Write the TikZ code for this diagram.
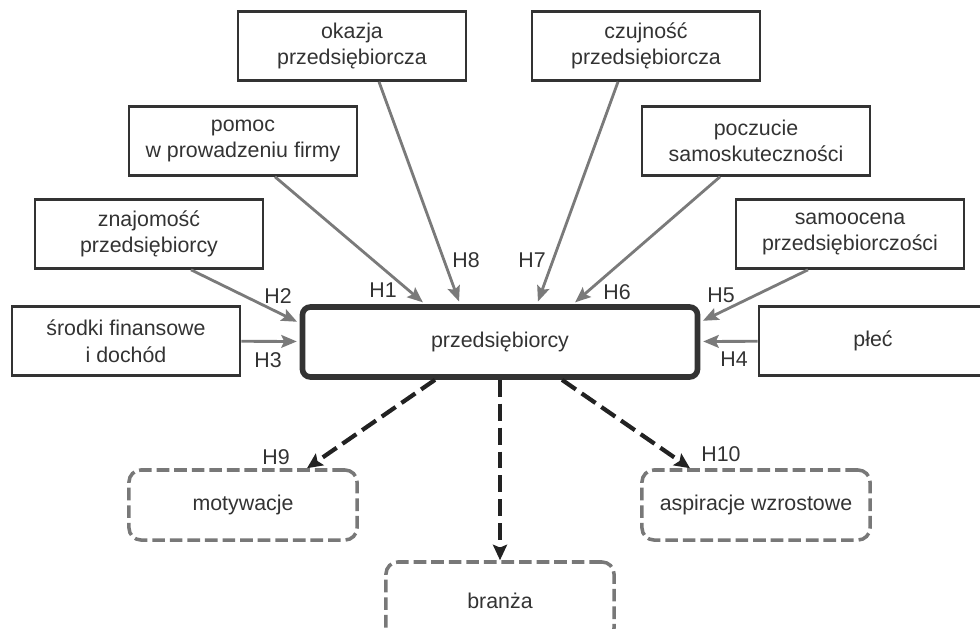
\documentclass[tikz,border=0pt]{standalone}
\usepackage{fontspec}
\setmainfont{Liberation Sans}
\usetikzlibrary{positioning,calc,arrows.meta}
\definecolor{boxgray}{HTML}{333333}
\definecolor{arrgray}{HTML}{7A7A7A}
\definecolor{dashgray}{HTML}{787878}
\definecolor{darkarr}{HTML}{222222}

\begin{document}
\begin{tikzpicture}[x=0.025cm,y=-0.025cm,
		factnode/.style={rectangle,draw=boxgray,line width=2pt,fill=white,text=boxgray,align=center,inner sep=0pt,minimum width=5.7cm,minimum height=1.72cm,font=\fontsize{15.2}{19}\selectfont},
		mainnode/.style={factnode,line width=4pt,rounded corners=0.2cm,minimum width=9.875cm,minimum height=1.75cm},
		outnode/.style={factnode,draw=dashgray,line width=2.5pt,dash pattern=on 9pt off 3.5pt,rounded corners=0.3cm,minimum height=1.75cm},
		hyparrow/.style={draw=arrgray,line width=2pt,-{Stealth[length=11pt,width=9pt,inset=2pt]},shorten >=2pt},
		outarrow/.style={draw=darkarr,line width=3pt,dash pattern=on 12pt off 5pt,-{Stealth[length=11pt,width=10pt,inset=2pt]}},
		hlabel/.style={text=boxgray,inner sep=0pt,font=\fontsize{15.2}{18}\selectfont}]
		\useasboundingbox (0,0) rectangle (980,629);
		\clip (0,0) rectangle (980,629);

		% center and factors
		\node[mainnode]		(main)		at (500,342)	{przedsiębiorcy};
		\node[factnode]		(okazja)	at (352,46)		{okazja\\przedsiębiorcza};
		\node[factnode]		(czujnosc)	at (646,46)		{czujność\\przedsiębiorcza};
		\node[factnode]		(pomoc)		at (243,141)	{pomoc\\w prowadzeniu firmy};
		\node[factnode]		(poczucie)	at (756,141)	{poczucie\\samoskuteczności};
		\node[factnode]		(znajomosc)	at (149,234)	{znajomość\\przedsiębiorcy};
		\node[factnode]		(samoocena)	at (850,234)	{samoocena\\przedsiębiorczości};
		\node[factnode]		(srodki)	at (126,341)	{środki finansowe\\i dochód};
		\node[factnode]		(plec)		at (873,341)	{płeć};

		% outcomes
		\node[outnode]		(motyw)		at (243,505)	{motywacje};
		\node[outnode]		(aspir)		at (756,505)	{aspiracje wzrostowe};
		\node[outnode,minimum height=1.95cm]	(branza)	at (500,601)	{branża};

		\draw[hyparrow] ($(pomoc.south)+(32,0)$) -- ($(main.north)+(-75,0)$);
		\draw[hyparrow] ($(okazja.south)+(27,0)$) -- ($(main.north)+(-40,0)$);
		\draw[hyparrow] ($(czujnosc.south)+(-28,0)$) -- ($(main.north)+(37,0)$);
		\draw[hyparrow] ($(poczucie.south)+(-36,0)$) -- ($(main.north)+(73,0)$);
		\draw[hyparrow] ($(znajomosc.south)+(42,0)$) -- ($(main.west)+(0,-19)$);
		\draw[hyparrow] (srodki) -- (main);
		\draw[hyparrow] ($(samoocena.south)+(-42,0)$) -- ($(main.east)+(0,-20)$);
		\draw[hyparrow] (plec) -- (main);

		\draw[outarrow] ($(main.south)+(-65,0)$) -- ($(motyw.north)+(64,0)$);
		\draw[outarrow] ($(main.south)+(62,0)$) -- ($(aspir.north)+(-66,0)$);
		\draw[outarrow] (main) -- (branza);

		\node[hlabel] (h1)	at (383,290)	{H1};
		\node[hlabel] (h2)	at (278,296)	{H2};
		\node[hlabel] (h3)	at (268,360)	{H3};
		\node[hlabel] (h4)	at (734,359)	{H4};
		\node[hlabel] (h5)	at (721,295)	{H5};
		\node[hlabel] (h6)	at (617,292)	{H6};
		\node[hlabel] (h7)	at (532,260)	{H7};
		\node[hlabel] (h8)	at (466,260)	{H8};
		\node[hlabel] (h9)	at (276,457)	{H9};
		\node[hlabel] (h10)	at (721,454)	{H10};
	\end{tikzpicture}
\end{document}
